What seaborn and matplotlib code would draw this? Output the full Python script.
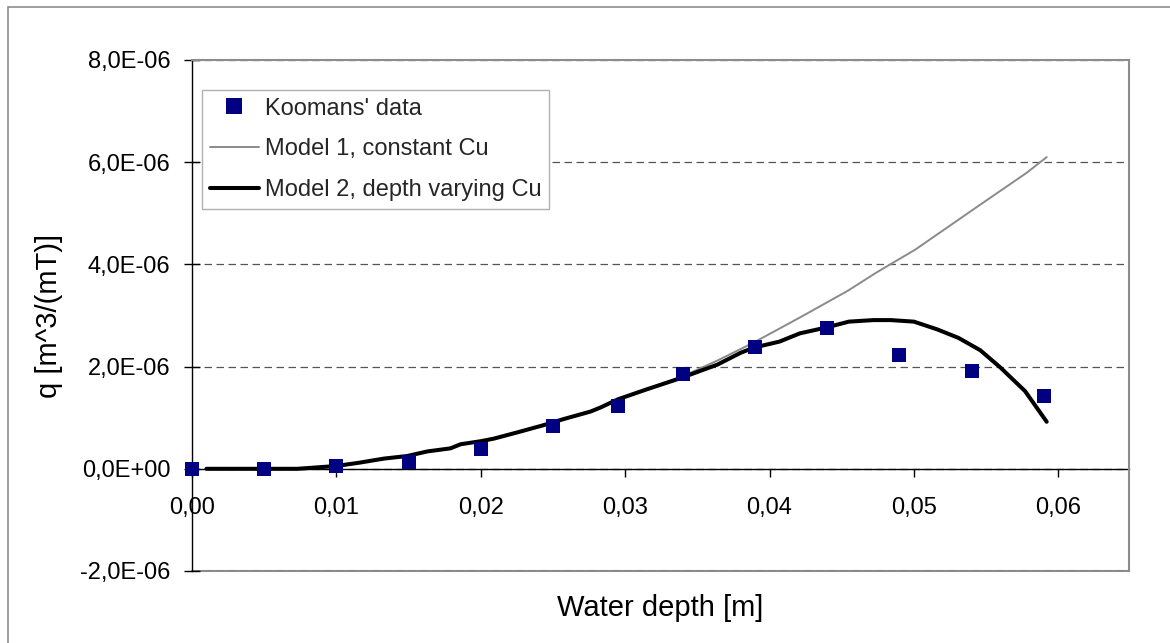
import matplotlib
matplotlib.use("Agg")
import matplotlib.pyplot as plt
from matplotlib.patches import Rectangle
from matplotlib.lines import Line2D
from matplotlib.ticker import FuncFormatter
import seaborn as sns
import pandas as pd

# ---- data (y values in units of 1e-6 m^3/(mT)) ----
data_depth = [0.0, 0.005, 0.010, 0.015, 0.020, 0.025, 0.0295, 0.034, 0.039, 0.044, 0.049, 0.054, 0.059]
data_q = [0.0, 0.0, 0.056, 0.136, 0.39, 0.83, 1.22, 1.85, 2.38, 2.75, 2.23, 1.92, 1.42]

model2_depth = [0.0010, 0.0073, 0.0100, 0.0116, 0.0133, 0.0149, 0.0163, 0.0179, 0.0186, 0.0200,
                0.0209, 0.0225, 0.0243, 0.0257, 0.0276, 0.0283, 0.0295, 0.0315, 0.0339, 0.0364,
                0.0380, 0.0389, 0.0407, 0.0421, 0.0440, 0.0455, 0.0472, 0.0484, 0.0500, 0.0516,
                0.0531, 0.0546, 0.0560, 0.0577, 0.0592]
model2_q = [0.00, 0.00, 0.055, 0.12, 0.20, 0.25, 0.34, 0.40, 0.48, 0.54,
            0.59, 0.71, 0.85, 0.97, 1.12, 1.20, 1.36, 1.555, 1.78, 2.04,
            2.27, 2.37, 2.49, 2.65, 2.77, 2.88, 2.91, 2.91, 2.88, 2.73,
            2.56, 2.32, 1.98, 1.52, 0.92]

model1_depth = [0.0010, 0.0073, 0.0100, 0.0116, 0.0133, 0.0149, 0.0163, 0.0179, 0.0186, 0.0200,
                0.0209, 0.0225, 0.0243, 0.0257, 0.0276, 0.0283, 0.0295, 0.0315, 0.0339, 0.0364,
                0.0389, 0.0421, 0.0454, 0.0474, 0.0501, 0.0546, 0.0578, 0.0592]
model1_q = [0.00, 0.00, 0.055, 0.12, 0.20, 0.25, 0.34, 0.40, 0.48, 0.54,
            0.59, 0.71, 0.85, 0.97, 1.12, 1.20, 1.36, 1.56, 1.80, 2.12,
            2.47, 2.96, 3.48, 3.84, 4.29, 5.17, 5.79, 6.10]

y_ticks = [-2e-6, 0.0, 2e-6, 4e-6, 6e-6, 8e-6]
x_ticks = [0.0, 0.01, 0.02, 0.03, 0.04, 0.05, 0.06]

label_data = "Koomans' data"
label_m1 = "Model 1, constant Cu"
label_m2 = "Model 2, depth varying Cu"

scale = 1e-6
df_data = pd.DataFrame({"x": data_depth, "y": [v * scale for v in data_q]})
df_m1 = pd.DataFrame({"x": model1_depth, "y": [v * scale for v in model1_q]})
df_m2 = pd.DataFrame({"x": model2_depth, "y": [v * scale for v in model2_q]})

sns.set_theme(style="white")
plt.rcParams["font.family"] = ["Liberation Sans", "DejaVu Sans"]

W, H = 1170, 643
fig = plt.figure(figsize=(W / 100, H / 100), dpi=100)
fig.patch.set_facecolor("white")
ax_l, ax_r, ax_t, ax_b = 192, 1129, 60, 571
ax = fig.add_axes([ax_l / W, 1 - ax_b / H, (ax_r - ax_l) / W, (ax_b - ax_t) / H])

# outer frame of the chart area
fig.add_artist(Rectangle((8 / W, -0.1), 1.2, 1 - 7 / H + 0.1, transform=fig.transFigure,
                         fill=False, edgecolor="#8c8c8c", linewidth=1.2))

sns.lineplot(data=df_m1, x="x", y="y", ax=ax, color="#8a8a8a", linewidth=1.4,
             sort=False, estimator=None, zorder=3)
sns.lineplot(data=df_m2, x="x", y="y", ax=ax, color="black", linewidth=2.9,
             sort=False, estimator=None, zorder=4)
sns.scatterplot(data=df_data, x="x", y="y", ax=ax, marker="s", s=115, color="#000080",
                linewidth=0, zorder=5, clip_on=False)

ax.set_xlim(0, 0.0649)
ax.set_ylim(-2e-6, 8e-6)
ax.set_yticks(y_ticks)
ax.set_xticks(x_ticks)
ax.yaxis.set_major_formatter(FuncFormatter(lambda v, p: f"{v:.1E}".replace(".", ",")))
ax.xaxis.set_major_formatter(FuncFormatter(lambda v, p: f"{v:.2f}".replace(".", ",")))

ax.grid(axis="y", color="#555555", linestyle=(0, (6, 3.6)), linewidth=0.9, zorder=1)
ax.grid(axis="x", visible=False)
ax.set_axisbelow(True)

for side in ["top", "right"]:
    ax.spines[side].set_visible(True)
    ax.spines[side].set_color("#8c8c8c")
    ax.spines[side].set_linewidth(1.5)
ax.spines["left"].set_color("black")
ax.spines["left"].set_linewidth(1.0)
ax.spines["bottom"].set_position(("data", 0))
ax.spines["bottom"].set_color("black")
ax.spines["bottom"].set_linewidth(1.0)
ax.spines["bottom"].set_zorder(2)
ax.axhline(-2e-6, color="#8c8c8c", linewidth=1.5, clip_on=False, zorder=0.5)

ax.tick_params(axis="y", direction="inout", length=11, width=1, color="black",
               labelsize=17, pad=10, left=True)
ax.tick_params(axis="x", direction="out", length=6, width=1, color="black",
               labelsize=17, pad=14, bottom=True)
for t in ax.get_xticklabels() + ax.get_yticklabels():
    t.set_color("black")

ax.set_xlabel("Water depth [m]", fontsize=21, color="black")
ax.set_ylabel("q [m^3/(mT)]", fontsize=21, color="black")
ax.xaxis.set_label_coords(0.5, -(594 - ax_b) / (ax_b - ax_t))
ax.yaxis.set_label_coords((63 - ax_l) / (ax_r - ax_l), 0.5)

handles = [
    Line2D([], [], marker="s", linestyle="none", color="#000080", markersize=11, markeredgewidth=0),
    Line2D([], [], color="#8a8a8a", linewidth=1.4),
    Line2D([], [], color="black", linewidth=2.9),
]
leg = ax.legend(handles, [label_data, label_m1, label_m2], loc="upper left",
                bbox_to_anchor=((202 - ax_l) / (ax_r - ax_l), (ax_b - 90) / (ax_b - ax_t)),
                borderaxespad=0, fontsize=17, frameon=True, fancybox=False,
                edgecolor="#b0b0b0", facecolor="white", framealpha=1,
                handlelength=2.1, handletextpad=0.25, labelspacing=0.8,
                borderpad=0.32)
leg.get_frame().set_linewidth(1.0)
leg.set_zorder(10)

fig.savefig("out.png", dpi=100, facecolor="white")
